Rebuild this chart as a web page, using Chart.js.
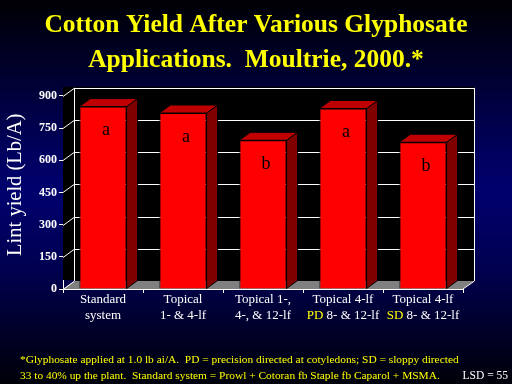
<!DOCTYPE html>
<html>
<head>
<meta charset="utf-8">
<script src="https://cdn.jsdelivr.net/npm/chart.js@4"></script>
<style>
  html, body { margin: 0; padding: 0; }
  body {
    width: 512px; height: 384px; overflow: hidden;
    background: linear-gradient(to bottom, #000004 0%, #00005e 40%, #00006e 50%, #000050 70%, #000008 100%);
  }
  canvas { display: block; }
</style>
</head>
<body>
<canvas id="yieldChart" width="512" height="384"></canvas>
<script>
// data
const treatments = ['Standard system', 'Topical 1- & 4-lf', 'Topical 1-, 4-, & 12-lf', 'Topical 4-lf PD 8- & 12-lf', 'Topical 4-lf SD 8- & 12-lf'];
const labelTop = ['Standard', 'Topical', 'Topical 1-,', 'Topical 4-lf', 'Topical 4-lf'];
const labelBottom = ['system', '1- & 4-lf', '4-, & 12-lf', '8- & 12-lf', '8- & 12-lf'];
const labelMark = ['', '', '', 'PD', 'SD'];
const lintYield = [850, 820, 693, 841, 684];
const letters = ['a', 'a', 'b', 'a', 'b'];
const yTicks = [0, 150, 300, 450, 600, 750, 900];

const SERIF = "'Liberation Serif', 'Times New Roman', serif";
const DX = 11, DY = -8;   // depth of the 3d box

Chart.defaults.font.family = SERIF;

const box3d = {
  id: 'box3d',
  beforeDatasetsDraw(chart) {
    const ctx = chart.ctx, a = chart.chartArea, y = chart.scales.y;
    ctx.save();
    // back wall
    ctx.fillStyle = '#000';
    ctx.fillRect(a.left + DX, a.top + DY - 1, a.right - a.left, a.bottom - a.top + 1);
    ctx.fillRect(a.left, a.top + DY - 1, DX, a.bottom - a.top);
    // floor
    ctx.fillStyle = '#808080';
    ctx.beginPath();
    ctx.moveTo(a.left, a.bottom);
    ctx.lineTo(a.right, a.bottom);
    ctx.lineTo(a.right + DX, a.bottom + DY);
    ctx.lineTo(a.left + DX, a.bottom + DY);
    ctx.closePath();
    ctx.fill();
    ctx.strokeStyle = '#fff';
    ctx.lineWidth = 1;
    // grid lines on back wall and side wall
    yTicks.forEach(v => {
      const py = Math.round(y.getPixelForValue(v)) + 0.5;
      ctx.beginPath();
      ctx.moveTo(a.left, py);
      ctx.lineTo(a.left + DX, py + DY);
      if (v > 0) ctx.lineTo(a.right + DX, py + DY);
      ctx.stroke();
    });
    // wall edges
    ctx.beginPath();
    ctx.moveTo(a.left + DX + 0.5, a.bottom + DY);
    ctx.lineTo(a.left + DX + 0.5, a.top + DY);
    ctx.moveTo(a.right + DX + 0.5, a.top + DY);
    ctx.lineTo(a.right + DX + 0.5, a.bottom + DY);
    ctx.lineTo(a.right, a.bottom);
    ctx.stroke();
    ctx.restore();
  },
  afterDatasetsDraw(chart) {
    const ctx = chart.ctx, a = chart.chartArea;
    const bars = chart.getDatasetMeta(0).data;
    ctx.save();
    ctx.strokeStyle = '#000';
    ctx.lineWidth = 1;
    bars.forEach((b, i) => {
      const l = b.x - b.width / 2, r = b.x + b.width / 2, t = b.y, base = b.base;
      ctx.fillStyle = '#800000';
      ctx.beginPath();
      ctx.moveTo(r, t); ctx.lineTo(r + DX, t + DY); ctx.lineTo(r + DX, base + DY); ctx.lineTo(r, base);
      ctx.closePath(); ctx.fill(); ctx.stroke();
      ctx.fillStyle = '#C00000';
      ctx.beginPath();
      ctx.moveTo(l, t); ctx.lineTo(r, t); ctx.lineTo(r + DX, t + DY); ctx.lineTo(l + DX, t + DY);
      ctx.closePath(); ctx.fill(); ctx.stroke();
      // significance letter
      ctx.fillStyle = '#000';
      ctx.font = '18px ' + SERIF;
      ctx.textAlign = 'center';
      ctx.textBaseline = 'middle';
      ctx.fillText(letters[i], b.x + 3, t + 24);
    });

    // category labels, with PD / SD picked out in yellow
    const x = chart.scales.x;
    ctx.font = '13px ' + SERIF;
    ctx.textBaseline = 'middle';
    ctx.textAlign = 'left';
    treatments.forEach((name, i) => {
      const cx = x.getPixelForValue(i);
      ctx.fillStyle = '#fff';
      ctx.fillText(labelTop[i], cx - ctx.measureText(labelTop[i]).width / 2, a.bottom + 11);
      const mark = labelMark[i] ? labelMark[i] + ' ' : '';
      const w = ctx.measureText(mark + labelBottom[i]).width;
      let sx = cx - w / 2;
      if (mark) {
        ctx.fillStyle = '#FFFF00';
        ctx.fillText(mark, sx, a.bottom + 27);
        sx += ctx.measureText(mark).width;
      }
      ctx.fillStyle = '#fff';
      ctx.fillText(labelBottom[i], sx, a.bottom + 27);
    });

    // footnote
    ctx.font = '11.4px ' + SERIF;
    ctx.fillStyle = '#FFFF00';
    ctx.fillText('*Glyphosate applied at 1.0 lb ai/A.  PD = precision directed at cotyledons; SD = sloppy directed', 20, 360);
    ctx.fillText('33 to 40% up the plant.  Standard system = Prowl + Cotoran fb Staple fb Caparol + MSMA.', 20, 376);
    ctx.fillStyle = '#fff';
    ctx.textAlign = 'right';
    ctx.font = '11.5px ' + SERIF;
    ctx.fillText('LSD = 55', 508, 376);
    ctx.restore();
  }
};

new Chart(document.getElementById('yieldChart'), {
  type: 'bar',
  data: {
    labels: treatments,
    datasets: [{
      data: lintYield,
      backgroundColor: '#FF0000',
      borderColor: '#000',
      borderWidth: 1,
      categoryPercentage: 0.59,
      barPercentage: 1
    }]
  },
  options: {
    responsive: false,
    animation: false,
    plugins: {
      legend: { display: false },
      tooltip: { enabled: false },
      title: {
        display: true,
        text: ['Cotton Yield After Various Glyphosate', 'Applications.  Moultrie, 2000.*'],
        color: '#FFFF00',
        font: { size: 25.5, weight: 'bold', family: SERIF, lineHeight: 1.37 },
        padding: { top: 8, bottom: 18 }
      }
    },
    scales: {
      x: {
        grid: { offset: true, drawOnChartArea: false, color: '#fff', tickLength: 4 },
        border: { color: '#fff' },
        ticks: { display: false },
        afterFit(s) { s.height = 95; }
      },
      y: {
        min: 0,
        max: 900,
        afterBuildTicks(s) { s.ticks = yTicks.map(v => ({ value: v })); },
        grid: { drawOnChartArea: false, color: '#fff', tickLength: 4 },
        border: { color: '#fff' },
        ticks: { color: '#fff', padding: 2, font: { size: 12, weight: 'bold', family: SERIF } },
        title: { display: true, text: '   Lint yield (Lb/A)', color: '#fff', padding: { top: 3, bottom: 0 }, font: { size: 20.5, family: SERIF } },
        afterFit(s) { s.width = 63; }
      },
      y2: {
        position: 'right',
        grid: { display: false },
        border: { display: false },
        ticks: { display: false },
        afterFit(s) { s.width = 49; }
      }
    }
  },
  plugins: [box3d]
});
</script>
</body>
</html>
